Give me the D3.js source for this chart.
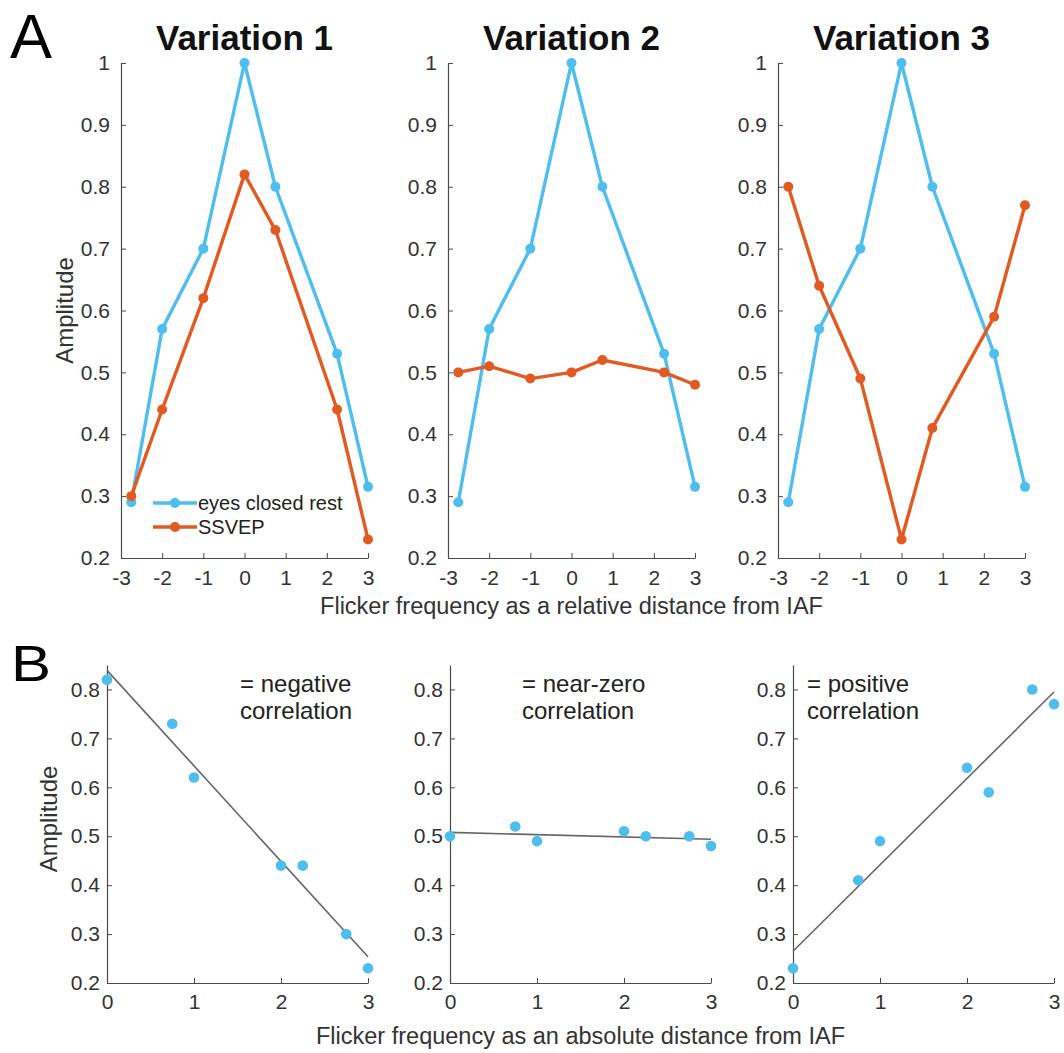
<!DOCTYPE html>
<html>
<head>
<meta charset="utf-8">
<script src="https://cdn.jsdelivr.net/npm/d3@7"></script>
<style>
  body { margin: 0; background: #fff; }
  svg text { font-family: "Liberation Sans", Arial, Helvetica, sans-serif; }
</style>
</head>
<body>
<div id="chart"></div>
<script>
// flicker frequency positions (relative distance from IAF)
var relX = [-2.75, -2, -1, 0, 0.75, 2.25, 3];
// eyes closed rest amplitude, same in every variation
var restAmp = [0.29, 0.57, 0.70, 1.0, 0.80, 0.53, 0.315];
// SSVEP amplitude per variation
var ssvep1 = [0.30, 0.44, 0.62, 0.82, 0.73, 0.44, 0.23];
var ssvep2 = [0.50, 0.51, 0.49, 0.50, 0.52, 0.50, 0.48];
var ssvep3 = [0.80, 0.64, 0.49, 0.23, 0.41, 0.59, 0.77];

var titles = ["Variation 1", "Variation 2", "Variation 3"];
var corrText = [["= negative", "correlation"], ["= near-zero", "correlation"], ["= positive", "correlation"]];
var legendNames = ["eyes closed rest", "SSVEP"];

var relTicks = [-3, -2, -1, 0, 1, 2, 3];
var ampTicksA = [0.2, 0.3, 0.4, 0.5, 0.6, 0.7, 0.8, 0.9, 1];
var absTicks = [0, 1, 2, 3];
var ampTicksB = [0.2, 0.3, 0.4, 0.5, 0.6, 0.7, 0.8];

var blue = "#4DBEEE";
var orange = "#E25A22";
var axisCol = "#4a4a4a";
var textCol = "#333";

var W = 1064, H = 1053;
var svg = d3.select("#chart").append("svg")
  .attr("width", W)
  .attr("height", H);

var ssvepAll = [ssvep1, ssvep2, ssvep3];

// ---------- panel A ----------
var aLeft = [121, 448, 778];
var aWidth = 247;
var aTop = 63, aBottom = 558;

function fmtAmp(d) { return d === 1 ? "1" : d3.format(".1f")(d); }

aLeft.forEach(function (left, i) {
  var x = d3.scaleLinear().domain([-3, 3]).range([left, left + aWidth]);
  var y = d3.scaleLinear().domain([0.2, 1]).range([aBottom, aTop]);

  var g = svg.append("g");

  var yAx = g.append("g")
    .attr("transform", "translate(" + left + ",0)")
    .call(d3.axisLeft(y).tickValues(ampTicksA).tickFormat(fmtAmp)
      .tickSizeInner(-5).tickSizeOuter(0).tickPadding(11));
  var xAx = g.append("g")
    .attr("transform", "translate(0," + aBottom + ")")
    .call(d3.axisBottom(x).tickValues(relTicks).tickFormat(d3.format("d"))
      .tickSizeInner(-5).tickSizeOuter(0).tickPadding(12));
  [yAx, xAx].forEach(function (ax) {
    ax.select(".domain").attr("stroke", axisCol).attr("stroke-width", 1.2);
    ax.selectAll(".tick line").attr("stroke", axisCol);
    ax.selectAll(".tick text").attr("fill", textCol).style("font-size", "21px");
  });
  xAx.selectAll(".tick text").text(function (d) { return d < 0 ? "-" + Math.abs(d) : d; });

  // title
  svg.append("text")
    .attr("x", left + aWidth / 2)
    .attr("y", 50)
    .attr("text-anchor", "middle")
    .style("font-size", "35px")
    .style("font-weight", "bold")
    .attr("fill", "#111")
    .text(titles[i]);

  var line = d3.line()
    .x(function (d) { return x(d[0]); })
    .y(function (d) { return y(d[1]); });

  var series = [
    { vals: restAmp, col: blue },
    { vals: ssvepAll[i], col: orange }
  ];
  series.forEach(function (s) {
    var pts = relX.map(function (v, k) { return [v, s.vals[k]]; });
    g.append("path")
      .datum(pts)
      .attr("d", line)
      .attr("fill", "none")
      .attr("stroke", s.col)
      .attr("stroke-width", 3.4)
      .attr("stroke-linejoin", "round");
    g.selectAll(null)
      .data(pts)
      .enter()
      .append("circle")
      .attr("cx", function (d) { return x(d[0]); })
      .attr("cy", function (d) { return y(d[1]); })
      .attr("r", 5)
      .attr("fill", s.col);
  });

  if (i === 0) {
    // legend
    var lg = g.append("g");
    [blue, orange].forEach(function (c, k) {
      var ly = 503 + k * 24;
      lg.append("line")
        .attr("x1", 153).attr("x2", 197)
        .attr("y1", ly).attr("y2", ly)
        .attr("stroke", c).attr("stroke-width", 3.4);
      lg.append("circle").attr("cx", 175).attr("cy", ly).attr("r", 5).attr("fill", c);
      lg.append("text")
        .attr("x", 198).attr("y", ly + 7)
        .style("font-size", "20px")
        .attr("fill", "#222")
        .text(legendNames[k]);
    });
  }
});

// y label A
svg.append("text")
  .attr("transform", "translate(73," + ((aTop + aBottom) / 2) + ") rotate(-90)")
  .attr("text-anchor", "middle")
  .style("font-size", "24px")
  .attr("fill", textCol)
  .text("Amplitude");

// x label A
svg.append("text")
  .attr("x", aLeft[1] + aWidth / 2)
  .attr("y", 614)
  .attr("text-anchor", "middle")
  .style("font-size", "23.5px")
  .attr("fill", textCol)
  .text("Flicker frequency as a relative distance from IAF");

// ---------- panel B ----------
var bLeft = [107, 450, 793];
var bWidth = 261;
var bTop = 665, bBottom = 983;

bLeft.forEach(function (left, i) {
  var x = d3.scaleLinear().domain([0, 3]).range([left, left + bWidth]);
  var y = d3.scaleLinear().domain([0.2, 0.85]).range([bBottom, bTop]);
  var g = svg.append("g");

  var yAx = g.append("g")
    .attr("transform", "translate(" + left + ",0)")
    .call(d3.axisLeft(y).tickValues(ampTicksB).tickFormat(d3.format(".1f"))
      .tickSizeInner(-5).tickSizeOuter(0).tickPadding(7));
  var xAx = g.append("g")
    .attr("transform", "translate(0," + bBottom + ")")
    .call(d3.axisBottom(x).tickValues(absTicks).tickFormat(d3.format("d"))
      .tickSizeInner(-5).tickSizeOuter(0).tickPadding(11));
  [yAx, xAx].forEach(function (ax) {
    ax.select(".domain").attr("stroke", axisCol).attr("stroke-width", 1.2);
    ax.selectAll(".tick line").attr("stroke", axisCol);
    ax.selectAll(".tick text").attr("fill", textCol).style("font-size", "21px");
  });

  var pts = relX.map(function (v, k) { return [Math.abs(v), ssvepAll[i][k]]; });

  // least squares fit
  var mx = d3.mean(pts, function (d) { return d[0]; });
  var my = d3.mean(pts, function (d) { return d[1]; });
  var sxy = d3.sum(pts, function (d) { return (d[0] - mx) * (d[1] - my); });
  var sxx = d3.sum(pts, function (d) { return (d[0] - mx) * (d[0] - mx); });
  var slope = sxy / sxx;
  var icpt = my - slope * mx;

  g.append("line")
    .attr("x1", x(0)).attr("y1", y(icpt))
    .attr("x2", x(3)).attr("y2", y(icpt + slope * 3))
    .attr("stroke", "#666")
    .attr("stroke-width", 1.6);

  g.selectAll(null)
    .data(pts)
    .enter()
    .append("circle")
    .attr("cx", function (d) { return x(d[0]); })
    .attr("cy", function (d) { return y(d[1]); })
    .attr("r", 5.3)
    .attr("fill", blue);

  var tx = [240, 522, 807][i];
  corrText[i].forEach(function (t, k) {
    svg.append("text")
      .attr("x", tx)
      .attr("y", 692 + k * 27)
      .style("font-size", "24px")
      .attr("fill", "#222")
      .text(t);
  });
});

svg.append("text")
  .attr("transform", "translate(57," + ((bTop + bBottom) / 2 - 5) + ") rotate(-90)")
  .attr("text-anchor", "middle")
  .style("font-size", "24px")
  .attr("fill", textCol)
  .text("Amplitude");

svg.append("text")
  .attr("x", bLeft[1] + bWidth / 2)
  .attr("y", 1044)
  .attr("text-anchor", "middle")
  .style("font-size", "23.5px")
  .attr("fill", textCol)
  .text("Flicker frequency as an absolute distance from IAF");

// panel letters
svg.append("text").attr("x", 10).attr("y", 58)
  .style("font-size", "63px").attr("fill", "#000").text("A");
svg.append("text").attr("x", 11).attr("y", 681)
  .style("font-size", "50px").attr("fill", "#000")
  .attr("transform", "translate(11,681) scale(1.2,1) translate(-11,-681)")
  .text("B");
</script>
</body>
</html>
